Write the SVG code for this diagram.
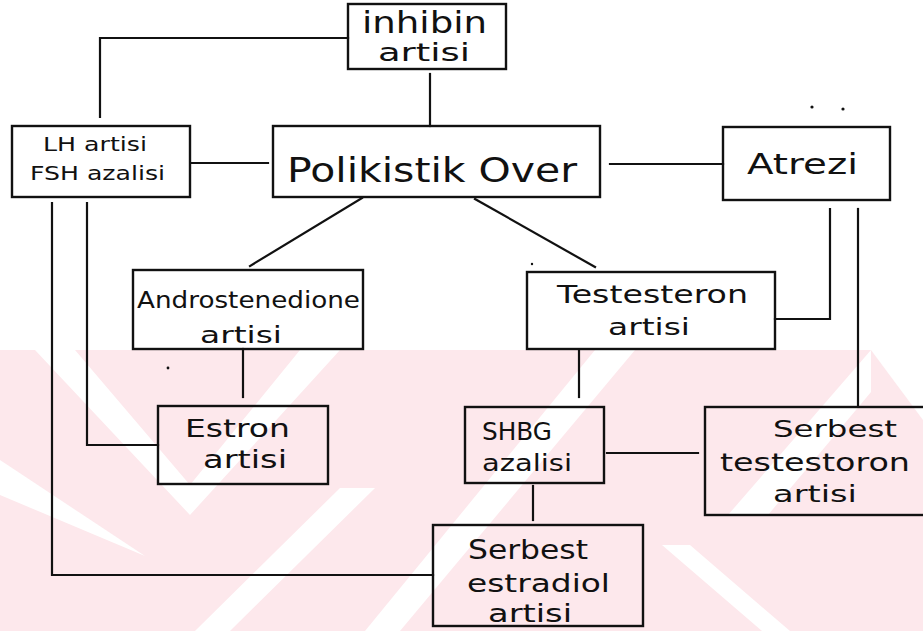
<svg xmlns="http://www.w3.org/2000/svg" width="923" height="631" viewBox="0 0 923 631">
<style>
  .box { fill: none; stroke: #111; stroke-width: 2.4; }
  .ln { fill: none; stroke: #111; stroke-width: 2.2; stroke-linecap: square; }
  .t { font-family: "DejaVu Sans", "Liberation Sans", sans-serif; fill: #111; }
  .wm { fill: #fde8ec; }
  .wh { fill: #ffffff; }
</style>
<rect x="0" y="0" width="923" height="631" fill="#ffffff"/>
<g id="watermark">
  <polygon class="wm" points="0,350 923,350 923,631 0,631"/>
  <polygon class="wh" points="871,350 923,350 923,420"/>
  <polygon class="wh" points="35,350 75,350 190,485 300,350 340,350 190,515"/>
  <polygon class="wh" points="0,460 145,556 0,495"/>
  <polygon class="wh" points="195,631 230,631 375,488 340,488"/>
  <polygon class="wh" points="365,631 400,631 635,350 595,350"/>
  <polygon class="wh" points="662,545 690,545 790,631 762,631"/>
  <polygon class="wh" points="728,515 768,515 871,392 871,350"/>
</g>
<g id="connectors">
  <polyline class="ln" points="348,38 100,38 100,117"/>
  <line class="ln" x1="430" y1="74" x2="430" y2="126"/>
  <line class="ln" x1="192" y1="163" x2="268" y2="163"/>
  <line class="ln" x1="610" y1="164" x2="723" y2="164"/>
  <line class="ln" x1="362" y1="198" x2="250" y2="266"/>
  <line class="ln" x1="475" y1="199" x2="595" y2="267"/>
  <polyline class="ln" points="87,203 87,445 158,445"/>
  <polyline class="ln" points="52,203 52,575 433,575"/>
  <line class="ln" x1="243" y1="349" x2="243" y2="397"/>
  <line class="ln" x1="579" y1="351" x2="579" y2="397"/>
  <polyline class="ln" points="830,209 830,319 775,319"/>
  <line class="ln" x1="858" y1="209" x2="858" y2="405"/>
  <line class="ln" x1="533" y1="486" x2="533" y2="520"/>
  <line class="ln" x1="607" y1="453" x2="698" y2="453"/>
</g>
<g id="specks" fill="#111">
  <circle cx="812" cy="107" r="1.6"/>
  <circle cx="843" cy="109" r="1.6"/>
  <circle cx="532" cy="264" r="1.2"/>
  <circle cx="168" cy="368" r="1.4"/>
</g>
<g id="inhibin">
  <rect class="box" x="348" y="4" width="158" height="65"/>
  <text class="t" x="362" y="33" font-size="30" textLength="125" lengthAdjust="spacingAndGlyphs">inhibin</text>
  <text class="t" x="378" y="61" font-size="24" textLength="92" lengthAdjust="spacingAndGlyphs">artisi</text>
</g>
<g id="lh">
  <rect class="box" x="12" y="126" width="178" height="71"/>
  <text class="t" x="43" y="151" font-size="19" textLength="104" lengthAdjust="spacingAndGlyphs">LH artisi</text>
  <text class="t" x="30" y="180" font-size="19" textLength="135" lengthAdjust="spacingAndGlyphs">FSH azalisi</text>
</g>
<g id="polikistik">
  <rect class="box" x="273" y="126" width="327" height="71"/>
  <text class="t" x="287" y="182" font-size="34" textLength="290" lengthAdjust="spacingAndGlyphs">Polikistik Over</text>
</g>
<g id="atrezi">
  <rect class="box" x="723" y="127" width="167" height="73"/>
  <text class="t" x="747" y="174" font-size="29" textLength="111" lengthAdjust="spacingAndGlyphs">Atrezi</text>
</g>
<g id="androstenedione">
  <rect class="box" x="133" y="270" width="230" height="79"/>
  <text class="t" x="137" y="308" font-size="23" textLength="223" lengthAdjust="spacingAndGlyphs">Androstenedione</text>
  <text class="t" x="200" y="343" font-size="23" textLength="82" lengthAdjust="spacingAndGlyphs">artisi</text>
</g>
<g id="testesteron">
  <rect class="box" x="527" y="272" width="248" height="77"/>
  <text class="t" x="557" y="303" font-size="24" textLength="191" lengthAdjust="spacingAndGlyphs">Testesteron</text>
  <text class="t" x="608" y="335" font-size="23" textLength="82" lengthAdjust="spacingAndGlyphs">artisi</text>
</g>
<g id="estron">
  <rect class="box" x="158" y="406" width="170" height="78"/>
  <text class="t" x="185" y="437" font-size="25" textLength="105" lengthAdjust="spacingAndGlyphs">Estron</text>
  <text class="t" x="203" y="468" font-size="24" textLength="84" lengthAdjust="spacingAndGlyphs">artisi</text>
</g>
<g id="shbg">
  <rect class="box" x="465" y="407" width="139" height="76"/>
  <text class="t" x="482" y="440" font-size="24" textLength="70" lengthAdjust="spacingAndGlyphs">SHBG</text>
  <text class="t" x="482" y="471" font-size="23" textLength="90" lengthAdjust="spacingAndGlyphs">azalisi</text>
</g>
<g id="serbest-testestoron">
  <rect class="box" x="705" y="407" width="225" height="108"/>
  <text class="t" x="773" y="437" font-size="23" textLength="124" lengthAdjust="spacingAndGlyphs">Serbest</text>
  <text class="t" x="720" y="471" font-size="24" textLength="190" lengthAdjust="spacingAndGlyphs">testestoron</text>
  <text class="t" x="773" y="502" font-size="23" textLength="84" lengthAdjust="spacingAndGlyphs">artisi</text>
</g>
<g id="serbest-estradiol">
  <rect class="box" x="433" y="525" width="210" height="101"/>
  <text class="t" x="468" y="559" font-size="26" textLength="120" lengthAdjust="spacingAndGlyphs">Serbest</text>
  <text class="t" x="467" y="592" font-size="25" textLength="143" lengthAdjust="spacingAndGlyphs">estradiol</text>
  <text class="t" x="488" y="622" font-size="24" textLength="84" lengthAdjust="spacingAndGlyphs">artisi</text>
</g>
</svg>
